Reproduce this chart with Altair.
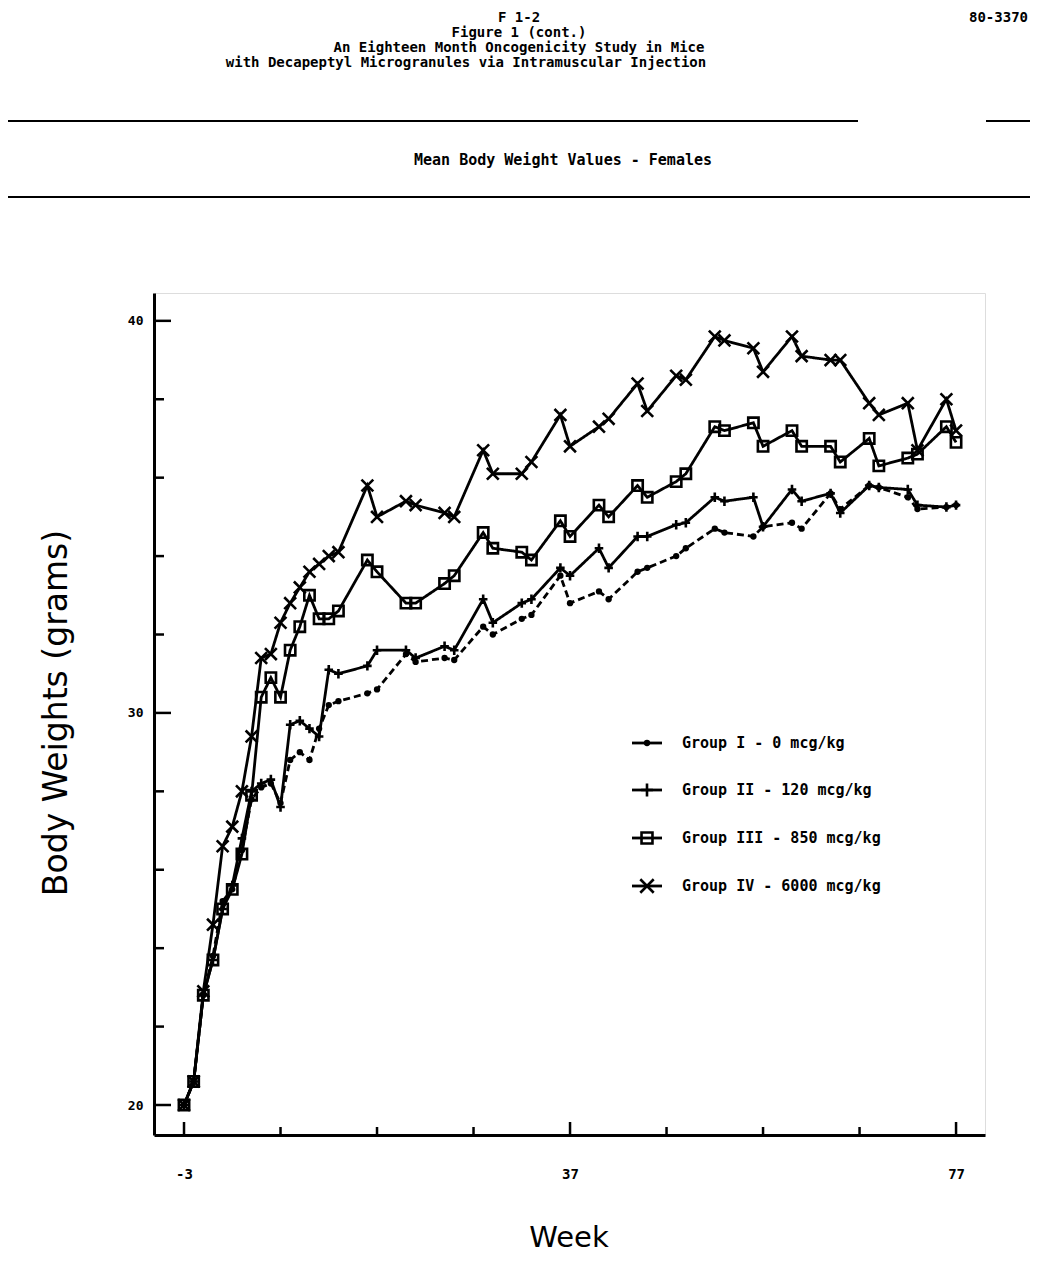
import altair as alt
import pandas as pd

weeks = [-3, -2, -1, 0, 1, 2, 3, 4, 5, 6, 7, 8, 9, 10, 11, 12, 13,
         16, 17, 20, 21, 24, 25, 28, 29, 32, 33, 36, 37, 40, 41, 44, 45,
         48, 49, 52, 53, 56, 57, 60, 61, 64, 65, 68, 69, 72, 73, 76, 77]

group_i = [20.0, 20.6, 22.8, 23.8, 25.2, 25.5, 26.5, 27.8, 28.1, 28.2, 27.7, 28.8, 29.0, 28.8, 29.6, 30.2, 30.3,
           30.5, 30.6, 31.5, 31.3, 31.4, 31.35, 32.2, 32.0, 32.4, 32.5, 33.5, 32.8, 33.1, 32.9, 33.6, 33.7,
           34.0, 34.2, 34.7, 34.6, 34.5, 34.75, 34.85, 34.7, 35.6, 35.2, 35.8, 35.75, 35.5, 35.2, 35.25, 35.3]
group_ii = [20.0, 20.6, 22.8, 23.7, 25.0, 25.6, 26.8, 28.0, 28.2, 28.3, 27.6, 29.7, 29.8, 29.6, 29.4, 31.1, 31.0,
            31.2, 31.6, 31.6, 31.4, 31.7, 31.6, 32.9, 32.3, 32.8, 32.9, 33.7, 33.5, 34.2, 33.7, 34.5, 34.5,
            34.8, 34.85, 35.5, 35.4, 35.5, 34.75, 35.7, 35.4, 35.6, 35.1, 35.8, 35.75, 35.7, 35.3, 35.25, 35.3]
group_iii = [20.0, 20.6, 22.8, 23.7, 25.0, 25.5, 26.4, 27.9, 30.4, 30.9, 30.4, 31.6, 32.2, 33.0, 32.4, 32.4, 32.6,
             33.9, 33.6, 32.8, 32.8, 33.3, 33.5, 34.6, 34.2, 34.1, 33.9, 34.9, 34.5, 35.3, 35.0, 35.8, 35.5,
             35.9, 36.1, 37.3, 37.2, 37.4, 36.8, 37.2, 36.8, 36.8, 36.4, 37.0, 36.3, 36.5, 36.6, 37.3, 36.9]
group_iv = [20.0, 20.6, 22.9, 24.6, 26.6, 27.1, 28.0, 29.4, 31.4, 31.5, 32.3, 32.8, 33.2, 33.6, 33.8, 34.0, 34.1,
            35.8, 35.0, 35.4, 35.3, 35.1, 35.0, 36.7, 36.1, 36.1, 36.4, 37.6, 36.8, 37.3, 37.5, 38.4, 37.7,
            38.6, 38.5, 39.6, 39.5, 39.3, 38.7, 39.6, 39.1, 39.0, 39.0, 37.9, 37.6, 37.9, 36.7, 38.0, 37.2]

groups = ["Group I - 0 mcg/kg", "Group II - 120 mcg/kg",
          "Group III - 850 mcg/kg", "Group IV - 6000 mcg/kg"]

x_ticks_major = [-3, 37, 77]
x_ticks_minor = [7, 17, 27, 47, 57, 67]
y_ticks_major = [20, 30, 40]
y_ticks_minor = [22, 24, 26, 28, 32, 34, 36, 38]

rows = []
for g, vals in zip(groups, [group_i, group_ii, group_iii, group_iv]):
    for w, v in zip(weeks, vals):
        rows.append({"week": w, "weight": v, "group": g})
df = pd.DataFrame(rows)

W, H = 831, 842
xs = alt.Scale(domain=[-6.11, 80.0], nice=False, zero=False)
ys = alt.Scale(domain=[19.235, 40.71], nice=False, zero=False)

MONO = "DejaVu Sans Mono"
PLUS = "M-1,0L1,0M0,-1.1L0,1.1"
CROSS = "M-1,-1L1,1M-1,1L1,-1"
shape_range = ["circle", PLUS, "square", CROSS]
size_range = [40, 140, 120, 180]

x_axis = alt.Axis(values=[-3, 7, 17, 27, 37, 47, 57, 67, 77],
                  labelExpr="datum.value == -3 ? '-3' : (datum.value == 37 ? '37' : (datum.value == 77 ? '77' : ''))",
                  ticks=False, grid=False, domainWidth=3, domainColor="black",
                  labelFont=MONO, labelFontSize=14, labelFontWeight="bold", labelColor="black",
                  labelPadding=32, title=None)
y_axis = alt.Axis(values=[20, 22, 24, 26, 28, 30, 32, 34, 36, 38, 40],
                  labelExpr="datum.value == 20 ? '20' : (datum.value == 30 ? '30' : (datum.value == 40 ? '40' : ''))",
                  ticks=False, grid=False, domainWidth=3, domainColor="black",
                  labelFont=MONO, labelFontSize=13, labelFontWeight="bold", labelColor="black",
                  labelPadding=11, title=None)

base = alt.Chart(df)
lines = base.mark_line(color="black", strokeWidth=2.8).encode(
    x=alt.X("week:Q", scale=xs, axis=x_axis),
    y=alt.Y("weight:Q", scale=ys, axis=y_axis),
    detail="group:N",
    strokeDash=alt.StrokeDash("group:N", scale=alt.Scale(domain=groups, range=[[7, 4], [1, 0], [1, 0], [1, 0]]), legend=None),
)
open_pts = base.transform_filter(alt.datum.group != groups[0]).mark_point(
    filled=False, color="black", strokeWidth=2.6, opacity=1).encode(
    x=alt.X("week:Q", scale=xs),
    y=alt.Y("weight:Q", scale=ys),
    shape=alt.Shape("group:N", scale=alt.Scale(domain=groups, range=shape_range), legend=None),
    size=alt.Size("group:N", scale=alt.Scale(domain=groups, range=size_range), legend=None),
)
dots = base.transform_filter(alt.datum.group == groups[0]).mark_point(
    filled=True, color="black", shape="circle", size=40, opacity=1).encode(
    x=alt.X("week:Q", scale=xs),
    y=alt.Y("weight:Q", scale=ys),
)

xt_major = alt.Chart(pd.DataFrame({"t": x_ticks_major})).mark_rule(color="black", strokeWidth=2.5).encode(
    x=alt.X("t:Q", scale=xs), y=alt.value(H), y2=alt.value(H - 13))
xt_minor = alt.Chart(pd.DataFrame({"t": x_ticks_minor})).mark_rule(color="black", strokeWidth=2.5).encode(
    x=alt.X("t:Q", scale=xs), y=alt.value(H), y2=alt.value(H - 8))
yt_major = alt.Chart(pd.DataFrame({"t": y_ticks_major})).mark_rule(color="black", strokeWidth=2.5).encode(
    y=alt.Y("t:Q", scale=ys), x=alt.value(0), x2=alt.value(17))
yt_minor = alt.Chart(pd.DataFrame({"t": y_ticks_minor})).mark_rule(color="black", strokeWidth=2.5).encode(
    y=alt.Y("t:Q", scale=ys), x=alt.value(0), x2=alt.value(10))

one = pd.DataFrame({"a": [0]})

def txt(s, x, y, size, weight="bold", font=MONO, align="center", angle=0):
    kw = dict(font=font, fontSize=size, fontWeight=weight, align=align, baseline="middle", color="black")
    if angle:
        kw["angle"] = angle
    return alt.Chart(one).mark_text(**kw).encode(x=alt.value(x), y=alt.value(y), text=alt.value(s))

def hrule(x1, x2, y, width=2.2):
    return alt.Chart(one).mark_rule(color="black", strokeWidth=width).encode(
        x=alt.value(x1), x2=alt.value(x2), y=alt.value(y))

deco = [
    txt("F 1-2", 365, -275, 14),
    txt("Figure 1 (cont.)", 365, -260, 14),
    txt("An Eighteen Month Oncogenicity Study in Mice", 365, -245, 14),
    txt("with Decapeptyl Microgranules via Intramuscular Injection", 312, -230, 14),
    txt("80-3370", 874, -275, 14, align="right"),
    hrule(-154, 704, -172),
    hrule(832, 884, -172),
    txt("Mean Body Weight Values - Females", 409, -133, 15),
    hrule(-154, 884, -96),
    txt("Body Weights (grams)", -97, 420, 33, weight="normal", font="DejaVu Sans", angle=270),
    txt("Week", 415, 945, 29, weight="normal", font="DejaVu Sans"),
]

legend_y = [450, 497, 545, 593]
legend_layers = []
for i, g in enumerate(groups):
    yy = legend_y[i]
    legend_layers.append(hrule(478, 508, yy, width=2.8))
    if i == 0:
        legend_layers.append(alt.Chart(one).mark_point(filled=True, color="black", shape="circle", size=40, opacity=1)
                             .encode(x=alt.value(493), y=alt.value(yy)))
    else:
        legend_layers.append(alt.Chart(one).mark_point(filled=False, color="black", strokeWidth=2.6, shape=shape_range[i],
                                                       size=size_range[i], opacity=1)
                             .encode(x=alt.value(493), y=alt.value(yy)))
    legend_layers.append(txt(g, 528, yy, 15, align="left"))

chart = alt.layer(lines, open_pts, dots, xt_major, xt_minor, yt_major, yt_minor, *deco, *legend_layers).properties(
    width=W, height=H,
    autosize=alt.AutoSizeParams(type="none"),
    padding={"left": 146, "top": 285, "right": 45, "bottom": 119},
).configure_view(stroke=None).configure(background="white")

chart.save("out.html", embed_options={"renderer": "svg", "actions": False})
